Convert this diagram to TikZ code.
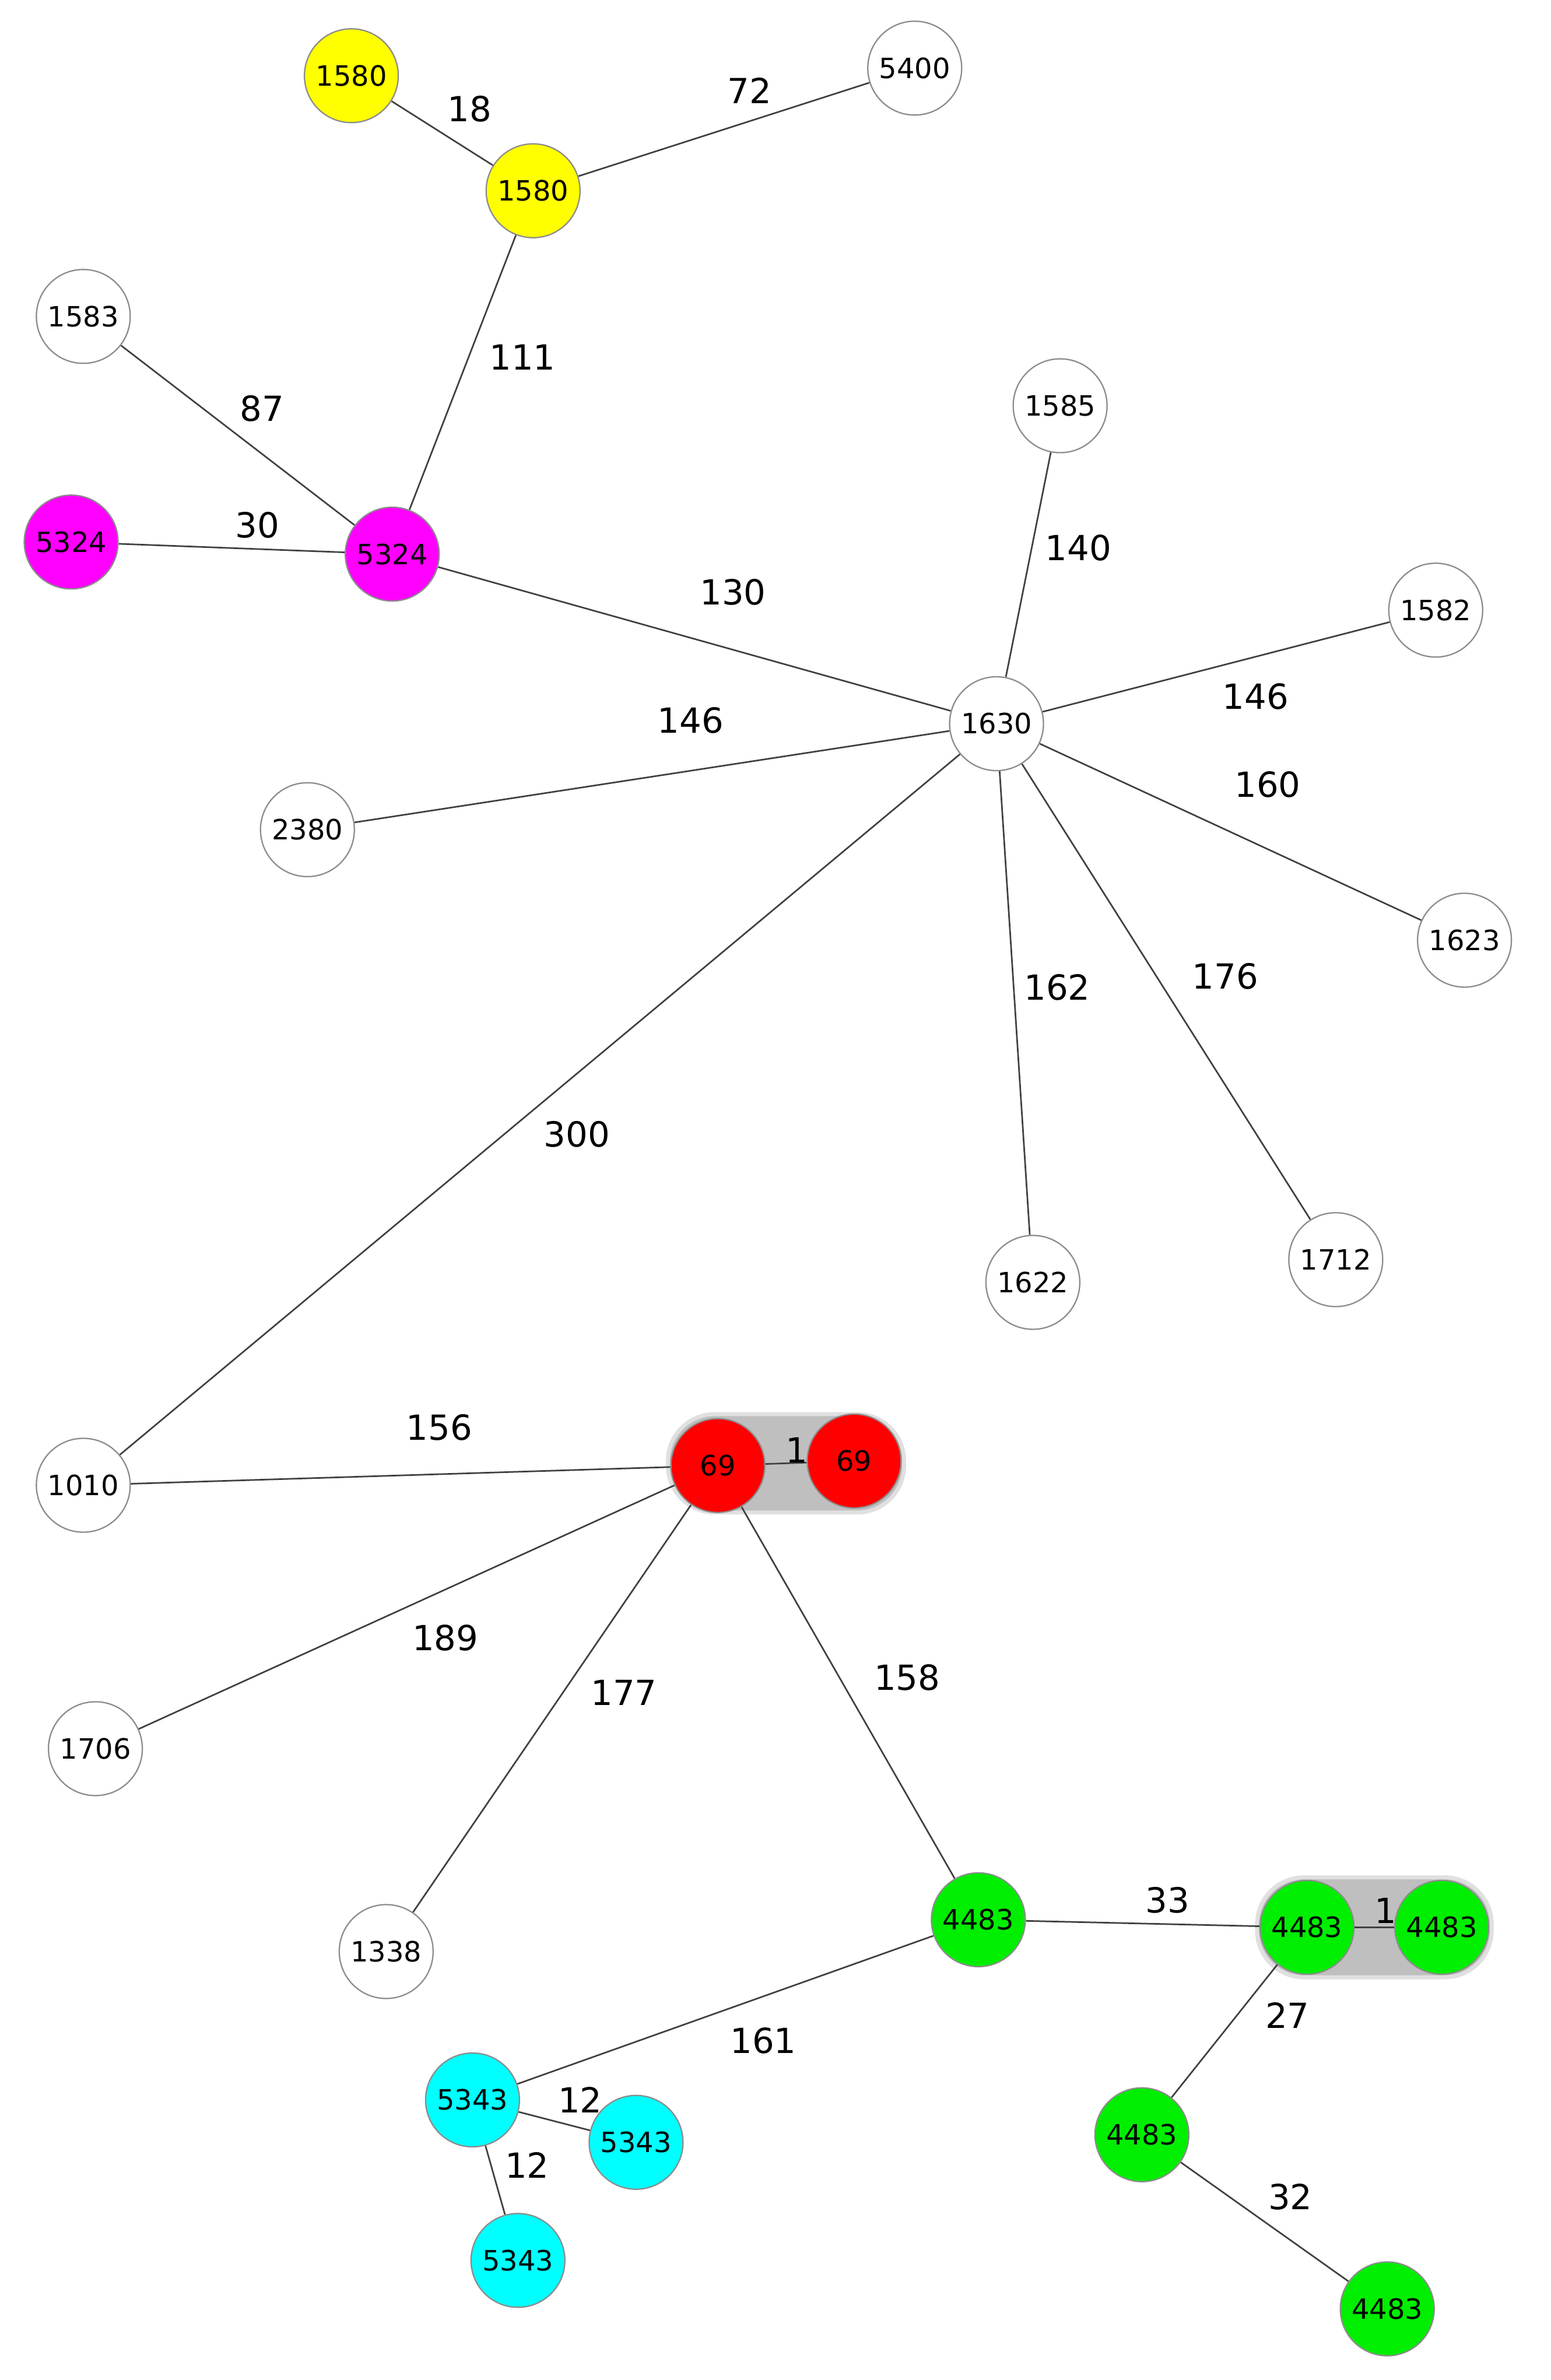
\documentclass[tikz,border=0pt]{standalone}
\usepackage{fontspec}
\setmainfont{DejaVu Sans}
\usetikzlibrary{backgrounds}
\definecolor{myyel}{RGB}{255,255,0}
\definecolor{mymag}{RGB}{255,0,255}
\definecolor{myred}{RGB}{255,0,0}
\definecolor{mygrn}{RGB}{0,238,0}
\definecolor{mycyan}{RGB}{0,255,255}
\tikzset{
 nd/.style={circle,draw=black!45,line width=0.5pt,minimum size=1.24cm,inner sep=0pt,font=\fontsize{10.5}{12}\selectfont},
 wn/.style={nd,fill=white},
 yn/.style={nd,fill=myyel},
 mn/.style={nd,fill=mymag},
 rn/.style={nd,fill=myred},
 gn/.style={nd,fill=mygrn},
 cn/.style={nd,fill=mycyan},
 ed/.style={draw=black!75,line width=0.6pt},
 lb/.style={font=\fontsize{13}{15}\selectfont,inner sep=0pt},
 grp/.style={fill=black!25,draw=black!12,line width=1.5pt,rounded corners=0.62cm}
}
\begin{document}
\begin{tikzpicture}[x=0.02cm,y=-0.02cm]
\useasboundingbox (0,0) rectangle (1024,1572);
\node[yn] (y1) at (232,50) {1580};
\node[yn] (y2) at (352,126) {1580};
\node[wn] (n5400) at (604,45) {5400};
\node[wn] (n1583) at (55,209) {1583};
\node[mn] (m1) at (47,358) {5324};
\node[mn] (m2) at (259,366) {5324};
\node[wn] (n1585) at (700,268) {1585};
\node[wn] (n1582) at (948,403) {1582};
\node[wn] (n1630) at (658,478) {1630};
\node[wn] (n2380) at (203,548) {2380};
\node[wn] (n1623) at (967,621) {1623};
\node[wn] (n1622) at (682,847) {1622};
\node[wn] (n1712) at (882,832) {1712};
\node[wn] (n1010) at (55,981) {1010};
\node[rn] (r1) at (474,968) {69};
\node[rn] (r2) at (564,965) {69};
\node[wn] (n1706) at (63,1155) {1706};
\node[wn] (n1338) at (255,1289) {1338};
\node[gn] (g1) at (646,1268) {4483};
\node[gn] (g2) at (863,1273) {4483};
\node[gn] (g3) at (952,1273) {4483};
\node[gn] (g4) at (754,1410) {4483};
\node[gn] (g5) at (916,1525) {4483};
\node[cn] (c1) at (312,1387) {5343};
\node[cn] (c2) at (420,1415) {5343};
\node[cn] (c3) at (342,1493) {5343};
\begin{pgfonlayer}{background}
\fill[white] (0,0) rectangle (1024,1572);
\draw[grp] (441,934) rectangle (597,999);
\draw[grp] (830,1240) rectangle (985,1306);
\draw[ed] (y1)--(y2) (y2)--(n5400) (y2)--(m2) (n1583)--(m2) (m1)--(m2) (m2)--(n1630)
 (n1630)--(n1585) (n1630)--(n1582) (n1630)--(n2380) (n1630)--(n1623) (n1630)--(n1622)
 (n1630)--(n1712) (n1630)--(n1010) (n1010)--(r1) (r1)--(r2) (r1)--(n1706) (r1)--(n1338)
 (r1)--(g1) (g1)--(g2) (g2)--(g3) (g2)--(g4) (g4)--(g5) (g1)--(c1) (c1)--(c2) (c1)--(c3);
\end{pgfonlayer}
\node[lb] (l1) at (310,72) {18};
\node[lb] (l2) at (495,60) {72};
\node[lb] (l3) at (345,236) {111};
\node[lb] (l4) at (173,270) {87};
\node[lb] (l5) at (170,347) {30};
\node[lb] (l6) at (484,391) {130};
\node[lb] (l7) at (712,362) {140};
\node[lb] (l8) at (456,476) {146};
\node[lb] (l9) at (829,460) {146};
\node[lb] (l10) at (837,518) {160};
\node[lb] (l11) at (698,652) {162};
\node[lb] (l12) at (809,645) {176};
\node[lb] (l13) at (381,749) {300};
\node[lb] (l14) at (290,943) {156};
\node[lb] (l15) at (526,958) {1};
\node[lb] (l16) at (294,1082) {189};
\node[lb] (l17) at (412,1118) {177};
\node[lb] (l18) at (599,1108) {158};
\node[lb] (l19) at (771,1255) {33};
\node[lb] (l20) at (915,1262) {1};
\node[lb] (l21) at (850,1331) {27};
\node[lb] (l22) at (504,1348) {161};
\node[lb] (l23) at (383,1387) {12};
\node[lb] (l24) at (348,1430) {12};
\node[lb] (l25) at (852,1451) {32};
\end{tikzpicture}
\end{document}
